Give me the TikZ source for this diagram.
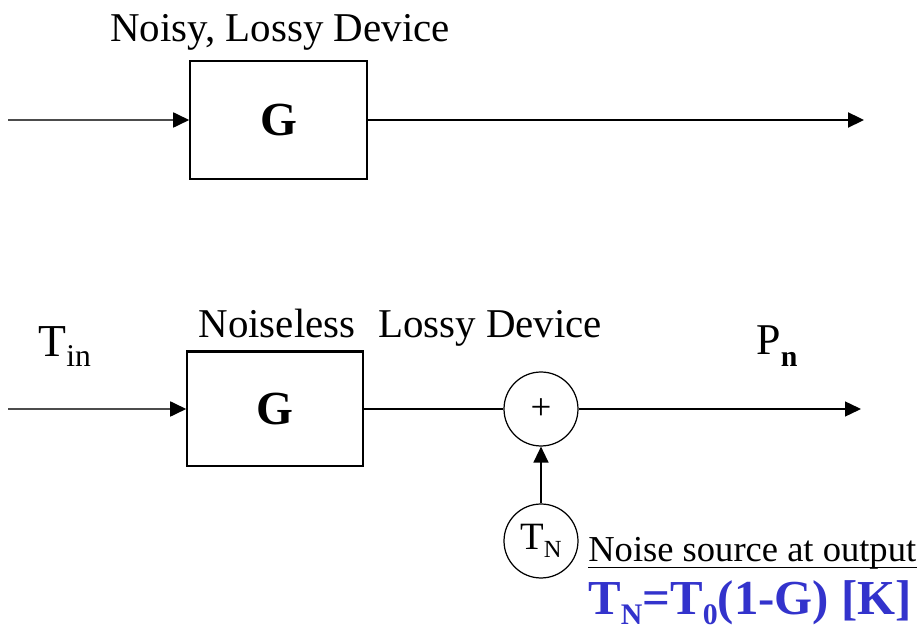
\documentclass[tikz,border=0pt]{standalone}
\usepackage{fontspec}
\setmainfont{Liberation Serif}
\usetikzlibrary{positioning}
\usetikzlibrary{arrows.meta}
\definecolor{formblue}{RGB}{51,51,204}
\newcommand{\fsz}[1]{\fontsize{#1}{#1}\selectfont}

\begin{document}
\begin{tikzpicture}[
    x=0.02cm, y=-0.02cm,
    block/.style={draw, line width=0.9pt, minimum width=3.54cm, minimum height=2.36cm, inner sep=0pt, font=\fsz{27}\bfseries},
    adder/.style={circle, draw, line width=0.7pt, minimum size=1.48cm, inner sep=0pt},
    txt/.style={inner sep=0pt, font=\fsz{23.3}},
    sig/.style={->, line width=0.8pt},
    feed/.style={-{Triangle[length=0.32cm,width=0.3cm,color=black]}, line width=1pt, gray!60!black},
    >={Triangle[length=0.32cm,width=0.3cm]}
]
    \useasboundingbox (0,0) rectangle (924,631);

    % --- Noisy, lossy device ---
    \node[txt, anchor=base] (noisy) at (280,42) {Noisy, Lossy Device};
    \node[block] (g1) at (278.5,120) {G};
    \coordinate (in1) at (8,120);
    \coordinate (out1) at (864,120);
    \draw[feed] (in1) -- (g1);
    \draw[sig, line width=1.3pt] (g1) -- (out1);

    % --- Noiseless device plus noise source ---
    \node[txt, anchor=base west, font=\fsz{26}] (tin) at (38,357) {T\raisebox{-0.2cm}{\fsz{18}in}};
    \node[txt, anchor=base] (nl) at (277,338) {Noiseless};
    \node[txt, anchor=base] (ld) at (490,338) {Lossy Device};
    \node[block, minimum width=3.52cm, minimum height=2.28cm] (g2) at (275,409) {G};
    \draw[line width=1.6pt] (g2.north west) -- (g2.north east);
    \node[adder, font=\fsz{21}] (sum) at (541,409) {+};
    \node[txt, anchor=base west, font=\fsz{25}] (pn) at (756,355) {P\raisebox{-0.23cm}{\fsz{17}\bfseries n}};
    \coordinate (in2) at (8,409);
    \coordinate (out2) at (861,409);
    \draw[feed] (in2) -- (g2);
    \draw[line width=0.8pt] (g2) -- (sum);
    \draw[sig] (sum) -- (out2);

    \node[adder, font=\fsz{22}] (tn) at (541,541) {T\raisebox{-0.17cm}{\fsz{14}N}};
    \draw[sig] (tn) -- (sum);
    \node[txt, anchor=base west, font=\fsz{20.8}] (ns) at (588,562) {Noise source at output};
    \draw[line width=1pt] ([yshift=-0.11cm]ns.base west) -- ([yshift=-0.11cm]ns.base east);
    \node[txt, anchor=base west, font=\fsz{27.8}\bfseries, text=formblue] (tnf) at (588,615)
        {T\raisebox{-0.2cm}{\fsz{17}N}=T\raisebox{-0.2cm}{\fsz{17}0}(1-G) [K]};
\end{tikzpicture}
\end{document}
